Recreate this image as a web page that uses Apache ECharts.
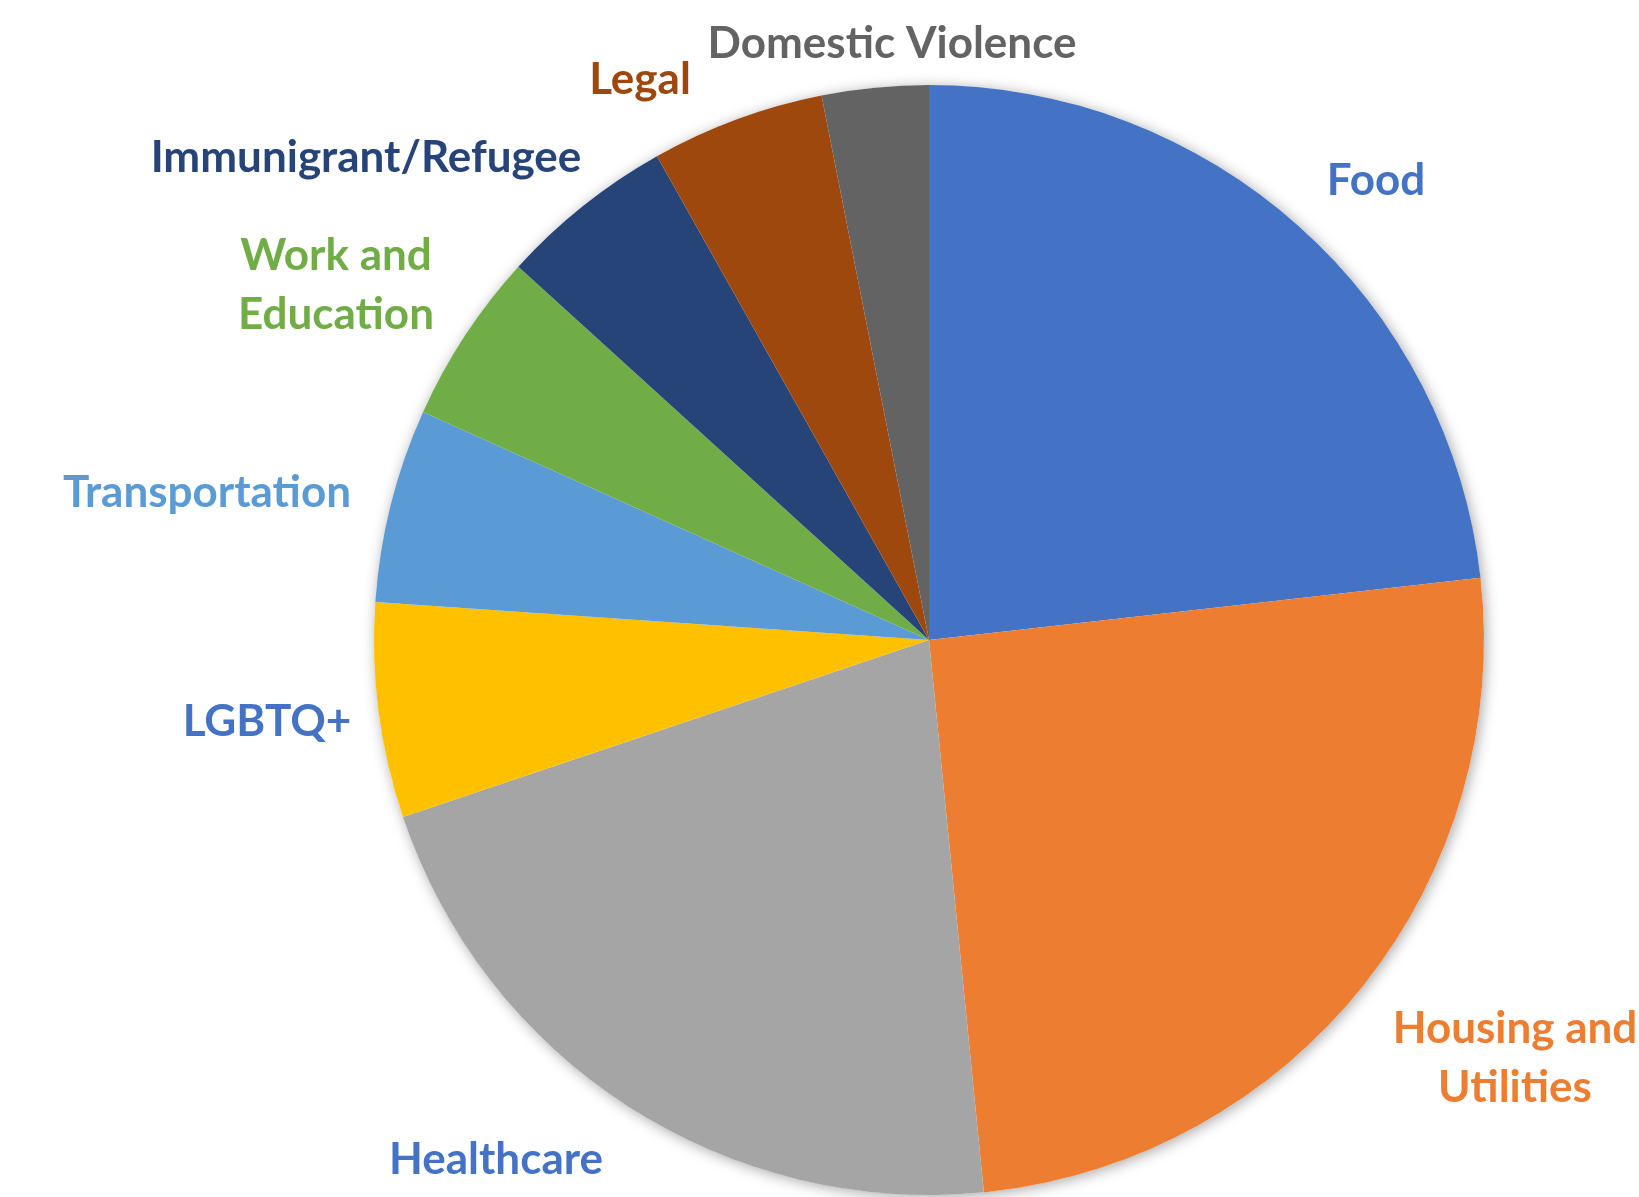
<!DOCTYPE html>
<html>
<head>
<meta charset="utf-8">
<script src="https://cdn.jsdelivr.net/npm/echarts@6/dist/echarts.min.js"></script>
<style>
html,body{margin:0;padding:0;background:#fff;}
#chart{width:1639px;height:1197px;}
</style>
</head>
<body>
<div id="chart"></div>
<script>
// ---- data (shares, %) ----
const categories = ['Food', 'Housing and\nUtilities', 'Healthcare', 'LGBTQ+', 'Transportation', 'Work and\nEducation', 'Immunigrant/Refugee', 'Legal', 'Domestic Violence'];
const values = [23.2, 25.2, 21.4, 6.25, 5.65, 5.0, 5.1, 5.05, 3.1];
const sliceColors = ['#4472C4', '#ED7D31', '#A5A5A5', '#FFC000', '#5B9BD5', '#70AD47', '#264478', '#9E480E', '#636363'];
const labelColors = ['#4472C4', '#ED7D31', '#4472C4', '#4472C4', '#5B9BD5', '#70AD47', '#264478', '#9E480E', '#636363'];
// label centres (layout, px)
const labelPos = [[1376, 181], [1515, 1058], [496, 1160], [267, 722], [207, 493], [336, 285], [366, 158], [640, 80], [892, 44]];

const CENTER = [929, 640];
const RADIUS = 555;
const FONT = 'Lato';
const FS = 44;

const chart = echarts.init(document.getElementById('chart'));
const data = categories.map((c, i) => ({
  name: c,
  value: values[i],
  itemStyle: { color: sliceColors[i] },
  label: {
    color: labelColors[i],
    formatter: c.split('\n').map(s => '{a|' + s + '}').join('\n'),
    rich: { a: { color: labelColors[i], fontFamily: FONT, fontWeight: 'bold', fontSize: FS, lineHeight: 59, align: 'center' } }
  }
}));

chart.setOption({
  backgroundColor: '#fff',
  animation: false,
  series: [
    {
      type: 'pie',
      center: CENTER,
      radius: RADIUS,
      silent: true,
      z: 1,
      label: { show: false },
      labelLine: { show: false },
      itemStyle: { color: '#fff', shadowBlur: 14, shadowColor: 'rgba(0,0,0,0.35)', shadowOffsetX: 2, shadowOffsetY: 2 },
      data: [{ value: 1, name: 'bg' }]
    },
    {
      type: 'pie',
      center: CENTER,
      radius: RADIUS,
      startAngle: 90,
      clockwise: true,
      z: 2,
      avoidLabelOverlap: false,
      itemStyle: { borderWidth: 0 },
      label: {
        show: true,
        position: 'outside',
        overflow: 'none',
        edgeDistance: 0,
        bleedMargin: 0,
        fontFamily: FONT,
        fontWeight: 'bold',
        fontSize: FS
      },
      labelLine: { show: false },
      labelLayout: function (params) {
        const p = labelPos[params.dataIndex];
        return { x: p[0], y: p[1], align: 'center', verticalAlign: 'middle', hideOverlap: false };
      },
      data: data
    }
  ]
});
</script>
</body>
</html>
